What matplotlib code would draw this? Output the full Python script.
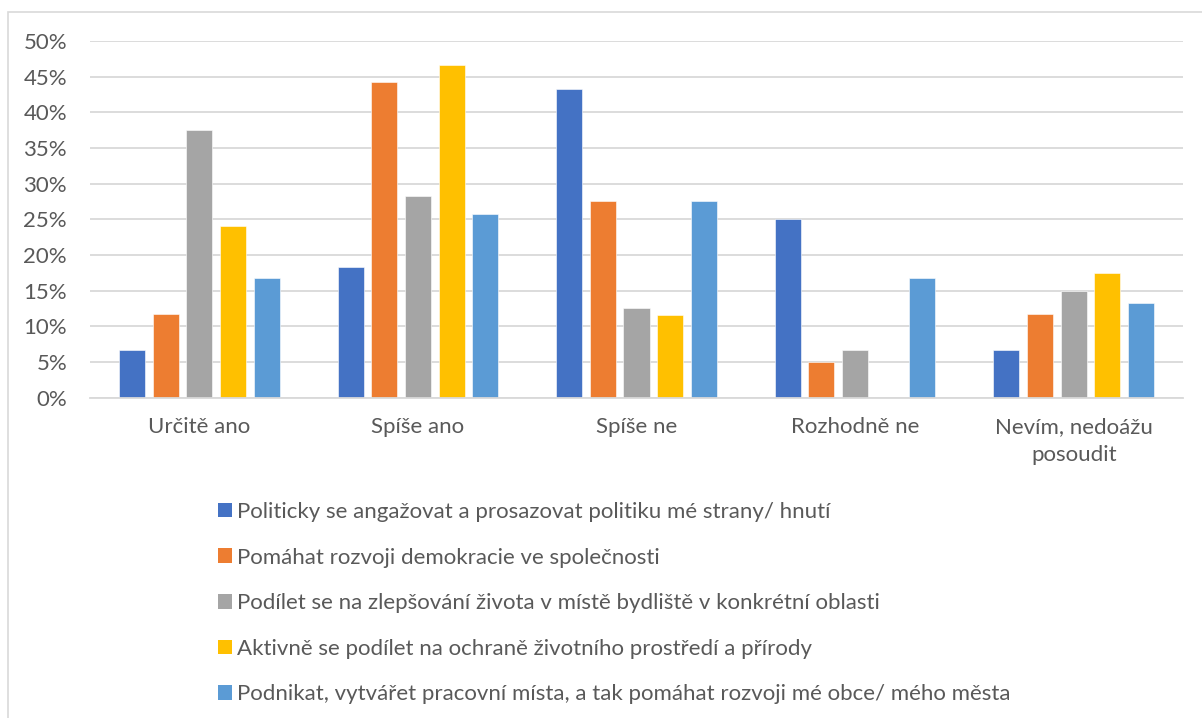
import matplotlib
matplotlib.use("Agg")
import matplotlib.pyplot as plt
import numpy as np
from matplotlib.patches import Rectangle, Patch

categories = ["Určitě ano", "Spíše ano", "Spíše ne", "Rozhodně ne", "Nevím, nedoážu\nposoudit"]
series_names = [
    "Politicky se angažovat a prosazovat politiku mé strany/ hnutí",
    "Pomáhat rozvoji demokracie ve společnosti",
    "Podílet se na zlepšování života v místě bydliště v konkrétní oblasti",
    "Aktivně se podílet na ochraně životního prostředí a přírody",
    "Podnikat, vytvářet pracovní místa, a tak pomáhat rozvoji mé obce/ mého města",
]
politicky = [6.7, 18.3, 43.3, 25.0, 6.7]
demokracie = [11.7, 44.2, 27.5, 5.0, 11.7]
zlepsovani = [37.5, 28.3, 12.5, 6.7, 15.0]
ochrana = [24.1, 46.6, 11.6, 0.0, 17.5]
podnikat = [16.7, 25.8, 27.5, 16.7, 13.3]
series_values = [politicky, demokracie, zlepsovani, ochrana, podnikat]
colors = ["#4472C4", "#ED7D31", "#A5A5A5", "#FFC000", "#5B9BD5"]
yticks = [0, 5, 10, 15, 20, 25, 30, 35, 40, 45, 50]

plt.rcParams['font.family'] = ['Lato', 'DejaVu Sans']
text_color = "#595959"
fs = 16

W, H = 1202, 718
fig = plt.figure(figsize=(W / 100, H / 100), dpi=100)
fig.patch.set_facecolor("white")

# chart border
fig.add_artist(Rectangle((8 / W, -0.05), 1.1, 1 - 12 / H + 0.05, transform=fig.transFigure,
                         fill=False, edgecolor="#D9D9D9", linewidth=1.2))

ax_left, ax_right = 90, 1183
ax_top, ax_bottom = 41, 397.5
ax = fig.add_axes([ax_left / W, 1 - ax_bottom / H, (ax_right - ax_left) / W, (ax_bottom - ax_top) / H])

x = np.arange(len(categories))
bar_w = 0.119
step = 0.154
for i, (vals, c, name) in enumerate(zip(series_values, colors, series_names)):
    ax.bar(x + (i - 2) * step, vals, width=bar_w, color=c, label=name, zorder=3,
           edgecolor="white", linewidth=0.4)

ax.set_xlim(-0.5, len(categories) - 0.5)
ax.set_ylim(0, 50)
ax.set_yticks(yticks)
ax.set_yticklabels([f"{v}%" for v in yticks])
ax.yaxis.grid(True, color="#D9D9D9", linewidth=1.3, zorder=0)
ax.set_axisbelow(True)
for s in ["top", "right", "left"]:
    ax.spines[s].set_visible(False)
ax.spines["bottom"].set_color("#D9D9D9")
ax.spines["bottom"].set_linewidth(1.3)
ax.spines["bottom"].set_zorder(4)
ax.set_xticks(x)
ax.set_xticklabels(categories, linespacing=1.5)
ax.tick_params(axis="both", length=0, colors=text_color, labelsize=fs)
ax.tick_params(axis="x", pad=14)
ax.tick_params(axis="y", pad=16.5)
for lab in ax.get_yticklabels():
    lab.set_horizontalalignment("right")

handles = [Patch(facecolor=c, edgecolor="none") for c in colors]
leg = fig.legend(handles, series_names, loc="upper left",
                 bbox_to_anchor=(218 / W, 1 - 502 / H), frameon=False,
                 fontsize=fs, handlelength=0.63, handleheight=0.63, handletextpad=0.22,
                 labelspacing=1.15, borderpad=0, borderaxespad=0)
for t in leg.get_texts():
    t.set_color(text_color)

fig.savefig("out.png", dpi=100, facecolor="white")
